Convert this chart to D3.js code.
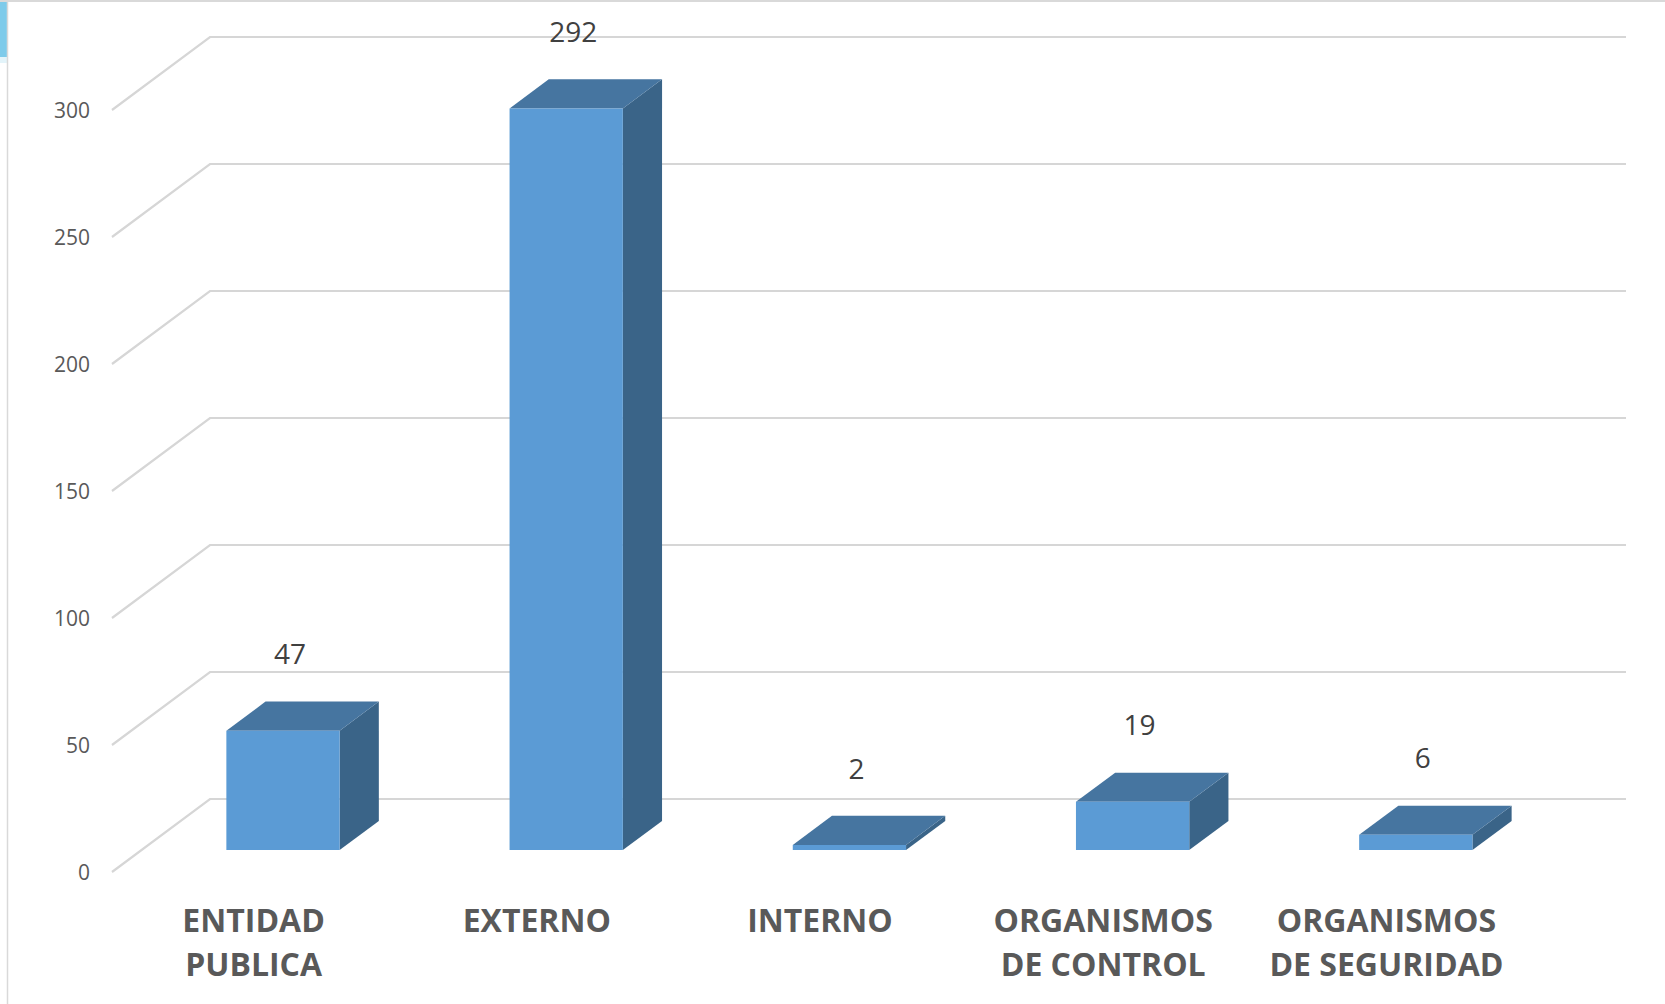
<!DOCTYPE html>
<html>
<head>
<meta charset="utf-8">
<title>Columnas 3D</title>
<style>
	body { margin: 0; background: #fff; }
	svg { display: block; font-family: "Open Sans", sans-serif; }
</style>
</head>
<body>
<svg id="chart"></svg>

<script src="https://d3js.org/d3.v7.min.js"></script>
<script>
	// data
	var categories = ["ENTIDAD PUBLICA", "EXTERNO", "INTERNO", "ORGANISMOS DE CONTROL", "ORGANISMOS DE SEGURIDAD"];
	var values = [47, 292, 2, 19, 6];
	var yTicks = [0, 50, 100, 150, 200, 250, 300];

	var width = 1665, height = 1004;

	// floor front-left corner and depth of the 3d box
	var x0 = 112, y0 = 872;
	var depth = {dx: 98, dy: -73};
	var plotW = 1416, plotH = 762;

	var svg = d3.select("#chart")
		.attr("width", width)
		.attr("height", height);

	var x = d3.scaleBand()
		.domain(categories)
		.range([0, plotW])
		.paddingInner(0.6)
		.paddingOuter(0.3);

	var y = d3.scaleLinear()
		.domain([0, 300])
		.range([0, plotH]);

	// screen point for (horizontal pos, value, depth fraction)
	function pt(px, v, d) {
		return [x0 + px + d * depth.dx, y0 - y(v) + d * depth.dy];
	}

	// frame bits at top left
	svg.append("rect").attr("x", 0).attr("y", 2).attr("width", 7).attr("height", 55).attr("fill", "#7ecbea");
	svg.append("rect").attr("x", 0).attr("y", 57).attr("width", 7).attr("height", 6).attr("fill", "#e3f4fa");
	svg.append("line").attr("x1", 0).attr("x2", width).attr("y1", 1).attr("y2", 1)
		.attr("stroke", "#d9d9d9").attr("stroke-width", 2);
	svg.append("line").attr("x1", 7.5).attr("x2", 7.5).attr("y1", 0).attr("y2", height)
		.attr("stroke", "#d9d9d9").attr("stroke-width", 1.5);

	// gridlines: back wall + side wall
	var grid = svg.append("g").attr("class", "grid")
		.attr("stroke", "#d6d6d6").attr("stroke-width", 2.2).attr("fill", "none");

	grid.selectAll("path")
		.data(yTicks)
		.join("path")
		.attr("d", function(v) {
			var a = pt(0, v, 0), b = pt(0, v, 1), c = pt(plotW, v, 1);
			return "M" + a + "L" + b + "L" + c;
		});

	// y tick labels
	svg.append("g").selectAll("text")
		.data(yTicks)
		.join("text")
		.attr("x", 90)
		.attr("y", function(v) { return y0 - y(v) + 1; })
		.attr("dy", "0.35em")
		.attr("text-anchor", "end")
		.attr("font-size", 21)
		.attr("fill", "#595959")
		.text(function(v) { return v; });

	// bars
	var dFront = 0.3, dBack = 0.7;
	var bars = svg.append("g").selectAll("g")
		.data(categories.map(function(c, i) { return {name: c, value: values[i]}; }))
		.join("g");

	function poly(points) { return "M" + points.join("L") + "Z"; }

	bars.append("path")
		.attr("fill", "#3a6488")
		.attr("d", function(d) {
			var r = x(d.name) + x.bandwidth();
			return poly([pt(r, 0, dFront), pt(r, 0, dBack), pt(r, d.value, dBack), pt(r, d.value, dFront)]);
		});

	bars.append("path")
		.attr("fill", "#4675a0")
		.attr("d", function(d) {
			var l = x(d.name), r = l + x.bandwidth();
			return poly([pt(l, d.value, dFront), pt(r, d.value, dFront), pt(r, d.value, dBack), pt(l, d.value, dBack)]);
		});

	bars.append("path")
		.attr("fill", "#5b9bd5")
		.attr("d", function(d) {
			var l = x(d.name), r = l + x.bandwidth();
			return poly([pt(l, 0, dFront), pt(r, 0, dFront), pt(r, d.value, dFront), pt(l, d.value, dFront)]);
		});

	// value labels
	bars.append("text")
		.attr("x", function(d) { return pt(x(d.name) + x.bandwidth() / 2, 0, dFront)[0] + 7; })
		.attr("y", function(d) { return pt(0, d.value, dBack)[1] - 47; })
		.attr("dy", "0.35em")
		.attr("text-anchor", "middle")
		.attr("font-size", 28)
		.attr("fill", "#404040")
		.text(function(d) { return d.value; });

	// category labels, wrapped word by word
	var catLabels = svg.append("g").selectAll("text")
		.data(categories)
		.join("text")
		.attr("x", function(c) { return x0 + x(c) + x.bandwidth() / 2; })
		.attr("y", 921)
		.attr("text-anchor", "middle")
		.attr("font-size", 32)
		.attr("font-weight", "bold")
		.attr("fill", "#595959");

	catLabels.each(function(c) {
		var text = d3.select(this);
		var words = c.split(" ");
		var line = [];
		var tspan = text.append("tspan").attr("x", text.attr("x")).attr("dy", "0.35em");
		words.forEach(function(w) {
			line.push(w);
			tspan.text(line.join(" "));
			if (tspan.node().getComputedTextLength() > 250 && line.length > 1) {
				line.pop();
				tspan.text(line.join(" "));
				line = [w];
				tspan = text.append("tspan").attr("x", text.attr("x")).attr("dy", "44px").text(w);
			}
		});
	});
</script>
</body>
</html>
